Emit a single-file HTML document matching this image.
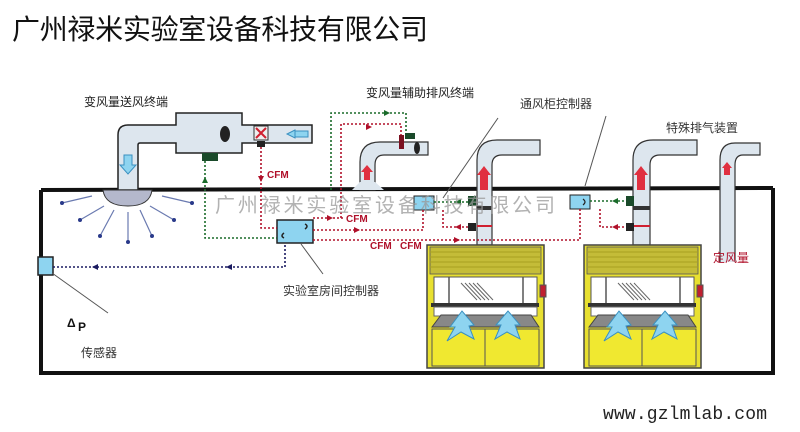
<!DOCTYPE html>
<html><head><meta charset="utf-8"><style>
html,body{margin:0;padding:0;background:#fff;}
svg{display:block;}
text{font-family:"Liberation Sans","Noto Sans CJK SC",sans-serif;}
text.mono{font-family:"Liberation Mono",monospace;}
</style></head><body>
<svg width="800" height="432" viewBox="0 0 800 432" xmlns="http://www.w3.org/2000/svg">
<defs>
<g id="hood">
<rect x="0" y="0" width="117" height="123" fill="#e8e030" stroke="#444" stroke-width="1.5"/>
<rect x="3" y="2" width="111" height="27" fill="#c4bc38" stroke="#555" stroke-width="0.8"/>
<g stroke="#a8a020" stroke-width="1"><line x1="3" y1="7" x2="114" y2="7"/><line x1="3" y1="12" x2="114" y2="12"/><line x1="3" y1="17" x2="114" y2="17"/><line x1="3" y1="22" x2="114" y2="22"/></g>
<rect x="7" y="32" width="103" height="27" fill="#fff" stroke="#555"/>
<line x1="22" y1="32" x2="22" y2="70" stroke="#555" stroke-width="1.5"/>
<line x1="96" y1="32" x2="96" y2="70" stroke="#555" stroke-width="1.5"/>
<g stroke="#666" stroke-width="1"><line x1="34" y1="38" x2="50" y2="55"/><line x1="38" y1="38" x2="54" y2="55"/><line x1="42" y1="38" x2="58" y2="55"/><line x1="46" y1="38" x2="62" y2="55"/><line x1="50" y1="38" x2="66" y2="55"/></g>
<rect x="4" y="58" width="108" height="4" fill="#333"/>
<rect x="7" y="62" width="103" height="9" fill="#fff" stroke="#666"/>
<path d="M5,82 L14,70 L104,70 L112,82z" fill="#888" stroke="#444"/>
<rect x="5" y="84" width="107" height="37" fill="#f0e830" stroke="#555"/>
<line x1="58" y1="84" x2="58" y2="121" stroke="#555"/>
<rect x="113" y="40" width="6" height="12" fill="#c02030" stroke="#555"/>
<path d="M20,96 L28,82 L23,82 L35,66 L47,80 L42,81 L47,94 L34,87z" fill="#8ed4f0" stroke="#3a90c0"/>
<path d="M68,94 L74,80 L69,80 L81,66 L93,80 L88,80 L93,94 L80,87z" fill="#8ed4f0" stroke="#3a90c0"/>
</g>
</defs>

<text x="12" y="39" font-size="28" fill="#111" textLength="416">广州禄米实验室设备科技有限公司</text>

<path d="M41,190 L41,373 L773,373 L773,188" fill="none" stroke="#111" stroke-width="4"/>
<line x1="41" y1="190" x2="773" y2="188" stroke="#111" stroke-width="4"/>

<path d="M118,190 L118,135 Q118,125 128,125 L176,125 L176,113 L242,113 L242,125 L312,125 L312,143 L242,143 L242,153 L176,153 L176,143 L140,143 Q138,143 138,145 L138,190z" fill="#dde6ee" stroke="#222" stroke-width="1.5"/>
<ellipse cx="225" cy="134" rx="5" ry="8" fill="#222"/>
<rect x="254" y="126" width="14" height="14" fill="#eee" stroke="#333"/>
<path d="M256,128L266,138M266,128L256,138" stroke="#d02030" stroke-width="2"/>
<rect x="257" y="141" width="8" height="6" fill="#222"/>
<rect x="202" y="153" width="16" height="8" fill="#1a4a2a"/>
<path d="M295,130 L287,134 L295,138z M295,131 L308,131 L308,137 L295,137" fill="#8ed4f0" stroke="#3a90c0"/>
<path d="M124,155 L124,165 L120,165 L128,174 L136,165 L132,165 L132,155z" fill="#8ed4f0" stroke="#3a90c0"/>
<path d="M103,190 L152,190 Q150,206 128,206 Q105,206 103,190z" fill="#b4b8cc" stroke="#333"/>
<g stroke="#6a7ab0" stroke-width="1.2">
<line x1="92" y1="196" x2="62" y2="203"/><line x1="104" y1="206" x2="80" y2="220"/><line x1="114" y1="210" x2="100" y2="236"/><line x1="128" y1="212" x2="128" y2="242"/><line x1="140" y1="210" x2="152" y2="236"/><line x1="150" y1="206" x2="174" y2="220"/><line x1="162" y1="196" x2="192" y2="203"/>
</g>
<g fill="#2a3a8a"><circle cx="62" cy="203" r="2"/><circle cx="80" cy="220" r="2"/><circle cx="100" cy="236" r="2"/><circle cx="128" cy="242" r="2"/><circle cx="152" cy="236" r="2"/><circle cx="174" cy="220" r="2"/><circle cx="192" cy="203" r="2"/></g>
<text x="84" y="106" font-size="12" fill="#222">变风量送风终端</text>

<path d="M360,190 L360,162 Q360,142 380,142 L428,142 L428,155 L384,155 Q375,155 375,165 L375,190z" fill="#dde6ee" stroke="#333" stroke-width="1.2"/>
<path d="M352,190 L360,182 L375,182 L384,190z" fill="#dde6ee"/>
<ellipse cx="417" cy="148" rx="3" ry="6" fill="#222"/>
<rect x="399" y="135" width="5" height="14" fill="#7a1020"/>
<rect x="405" y="133" width="10" height="6" fill="#1a4a2a"/>
<path d="M364,180 L364,172 L361,172 L367,165 L373,172 L370,172 L370,180z" fill="#e03040"/>
<text x="366" y="97" font-size="12" fill="#222">变风量辅助排风终端</text>

<path d="M477,245 L477,160 Q477,140 497,140 L540,140 L540,155 L502,155 Q492,155 492,165 L492,245z" fill="#dde6ee" stroke="#333" stroke-width="1.2"/>
<path d="M633,245 L633,160 Q633,140 653,140 L697,140 L697,155 L660,155 Q650,155 650,165 L650,245z" fill="#dde6ee" stroke="#333" stroke-width="1.2"/>
<path d="M720,262 L720,160 Q720,143 735,143 L760,143 L760,155 L743,155 Q735,155 735,165 L735,262" fill="#dde6ee" stroke="#333" stroke-width="1.2"/>
<path d="M480,190 L480,175 L477,175 L484,166 L491,175 L488,175 L488,190z" fill="#e03040"/>
<path d="M637,190 L637,175 L634,175 L641,166 L648,175 L645,175 L645,190z" fill="#e03040"/>
<path d="M724,175 L724,168 L722,168 L727,162 L732,168 L730,168 L730,175z" fill="#e03040"/>
<rect x="477" y="206" width="15" height="4" fill="#333"/>
<rect x="477" y="225" width="15" height="2" fill="#d02030"/>
<rect x="633" y="206" width="17" height="4" fill="#333"/>
<rect x="633" y="225" width="17" height="2" fill="#d02030"/>
<rect x="468" y="196" width="8" height="10" fill="#1a4a2a"/>
<rect x="626" y="196" width="8" height="10" fill="#1a4a2a"/>
<rect x="468" y="223" width="8" height="8" fill="#222"/>
<rect x="626" y="223" width="8" height="8" fill="#222"/>

<use href="#hood" x="427" y="245"/>
<use href="#hood" x="584" y="245"/>

<rect x="277" y="220" width="36" height="23" fill="#8ed4f0" stroke="#222" stroke-width="1.5"/>
<path d="M305,224 q4,2 0,5 M284,233 q-4,3 0,5" fill="none" stroke="#222" stroke-width="1.5"/>
<rect x="414" y="196" width="20" height="14" fill="#8ed4f0" stroke="#222"/>
<rect x="570" y="195" width="20" height="14" fill="#8ed4f0" stroke="#222"/>
<path d="M583,199 q4,3 0,6" fill="none" stroke="#222" stroke-width="1.2"/>
<rect x="38" y="257" width="15" height="18" fill="#8ed4f0" stroke="#222" stroke-width="1.5"/>

<g fill="none" stroke-width="1.6" stroke-dasharray="2,2">
<path d="M205,161 L205,238 L277,238" stroke="#1a6b2a"/>
<path d="M331,190 L331,113 L406,113 L406,133" stroke="#1a6b2a"/>
<path d="M434,202 L468,202" stroke="#1a6b2a"/>
<path d="M590,201 L626,201" stroke="#1a6b2a"/>
<path d="M261,147 L261,228 L277,228" stroke="#b0102a"/>
<path d="M341,218 L341,124 L401,124 L401,135" stroke="#b0102a"/>
<path d="M313,218 L345,218" stroke="#b0102a"/>
<path d="M313,230 L423,230 L423,210" stroke="#b0102a"/>
<path d="M313,240 L580,240 L580,209" stroke="#b0102a"/>
<path d="M443,210 L443,227 L468,227" stroke="#b0102a"/>
<path d="M600,209 L600,227 L626,227" stroke="#b0102a"/>
<path d="M53,267 L285,267 L285,243" stroke="#1a1a60"/>
</g>
<g fill="#b0102a"><path d="M258,176 l3,6 l3,-6z"/><path d="M333,218 l-6,-3 v6z"/><path d="M372,127 l-6,-3 v6z"/><path d="M360,230 l-6,-3 v6z"/><path d="M460,240 l-6,-3 v6z"/><path d="M455,227 l6,-3 v6z"/><path d="M612,227 l6,-3 v6z"/></g>
<g fill="#1a6b2a"><path d="M202,183 l3,-6 l3,6z"/><path d="M390,113 l-6,-3 v6z"/><path d="M455,202 l6,-3 v6z"/><path d="M612,201 l6,-3 v6z"/></g>
<g fill="#1a1a60"><path d="M92,267 l6,-3 v6z"/><path d="M226,267 l6,-3 v6z"/></g>
<g font-size="10" font-weight="bold" fill="#b0102a">
<text x="267" y="178">CFM</text><text x="346" y="222">CFM</text><text x="370" y="249">CFM</text><text x="400" y="249">CFM</text>
</g>

<g stroke="#555" stroke-width="1"><line x1="301" y1="244" x2="323" y2="274"/><line x1="52" y1="273" x2="108" y2="313"/><line x1="443" y1="198" x2="498" y2="118"/><line x1="585" y1="186" x2="606" y2="116"/></g>
<text x="283" y="295" font-size="12" fill="#333">实验室房间控制器</text>
<text x="520" y="108" font-size="12" fill="#333">通风柜控制器</text>
<text x="666" y="132" font-size="12" fill="#333">特殊排气装置</text>
<text x="713" y="262" font-size="12" fill="#b0102a">定风量</text>
<text x="67" y="327" font-size="12" font-weight="bold" fill="#111">Δ</text><text x="78" y="331" font-size="12" font-weight="bold" fill="#111">P</text>
<text x="81" y="357" font-size="12" fill="#333">传感器</text>

<text x="215" y="212" font-size="20" fill="#999" opacity="0.75" textLength="340">广州禄米实验室设备科技有限公司</text>
<text class="mono" x="603" y="419" font-size="18" fill="#222" textLength="164">www.gzlmlab.com</text>
</svg>
</body></html>
